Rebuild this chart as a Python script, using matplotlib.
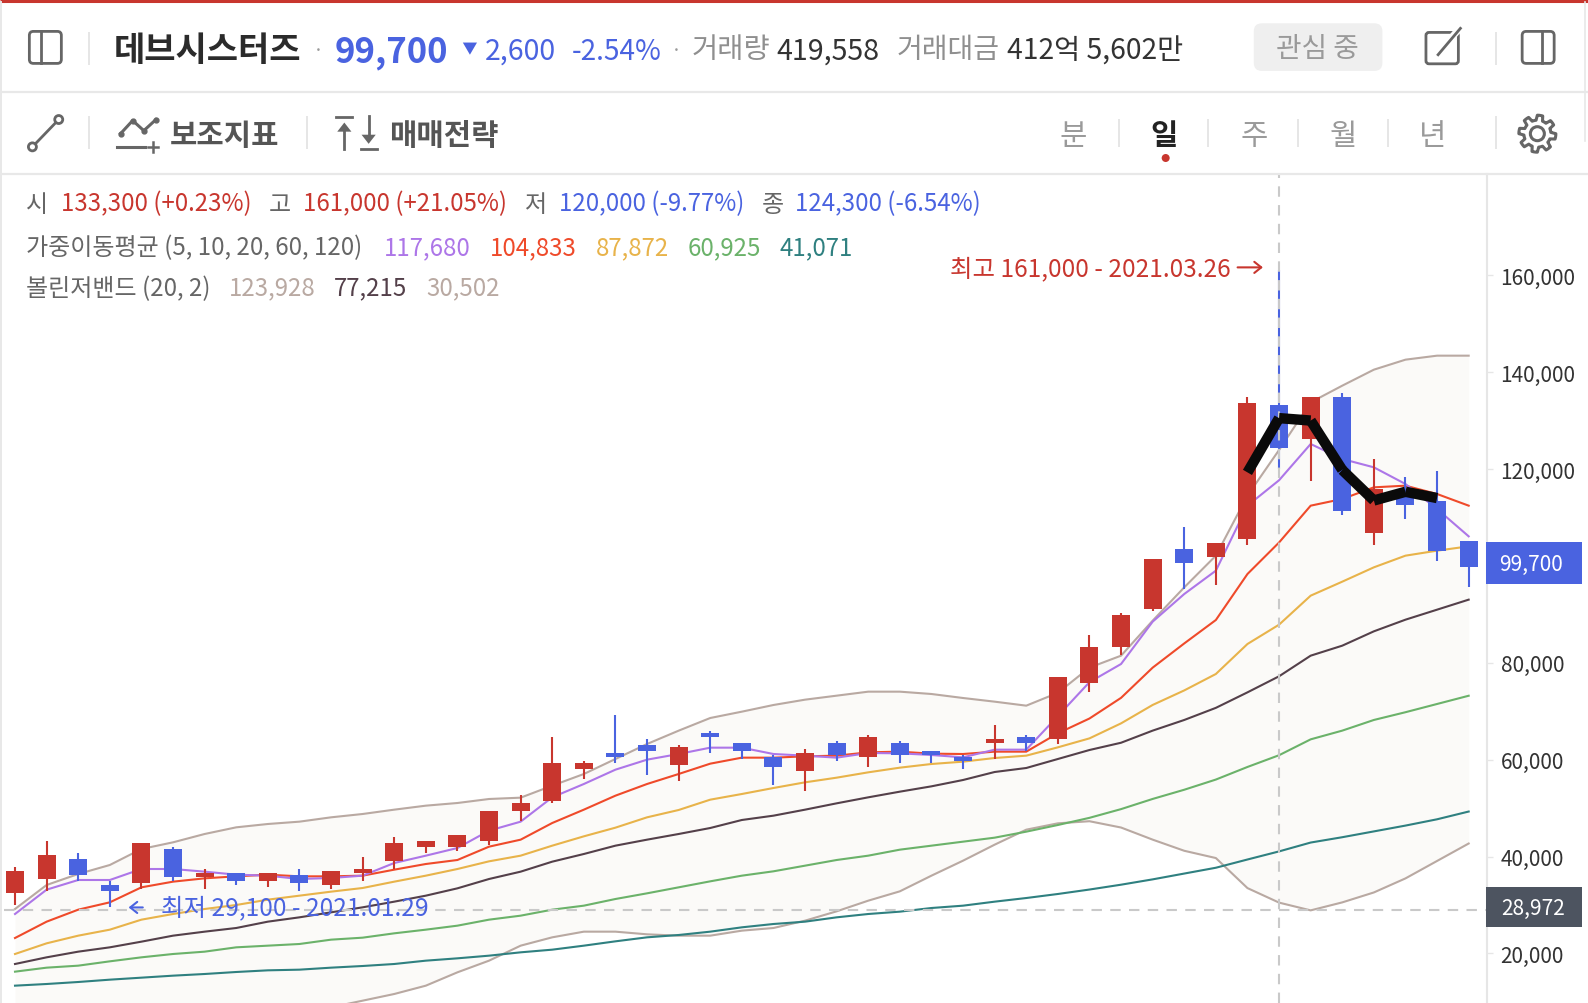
import numpy as np
import matplotlib
matplotlib.use('Agg')
import matplotlib.pyplot as plt
from matplotlib.patches import FancyBboxPatch, Rectangle, Circle, Polygon
from matplotlib.ticker import FuncFormatter

plt.rcParams['font.family'] = ['Noto Sans CJK KR', 'DejaVu Sans']

# candles: open/close as top and bottom of the body, wicks, up or down
body_top = [37028, 40330, 39504, 34138, 42806, 41568, 36614, 36614, 36614, 36202, 37028, 37440,
            42806, 43219, 44458, 49411, 51062, 59318, 59318, 61382, 63034, 62621, 65510, 63446,
            60557, 61382, 63446, 64685, 63446, 61795, 60557, 64272, 64685, 77155, 83261, 89866,
            101424, 103488, 104726, 133622, 133300, 134861, 134861, 115872, 115872, 113395, 105139]
body_bot = [32486, 35376, 36202, 32899, 34550, 35789, 35789, 34963, 34963, 34550, 34138, 36614,
            39092, 41981, 41981, 43219, 49411, 51475, 58080, 60557, 61795, 58906, 64685, 61795,
            58493, 57667, 60970, 60557, 60970, 60970, 59731, 63446, 63446, 64197, 75900, 83261,
            91104, 100598, 101837, 105552, 124300, 126192, 111331, 106790, 112570, 103075, 99700]
wick_hi = [37853, 43219, 40742, 34963, 42806, 41981, 37440, 36614, 36614, 37440, 37028, 39917,
           44045, 43219, 44458, 49411, 52714, 64685, 59731, 69226, 64272, 63034, 65923, 63446,
           60970, 62208, 63859, 65098, 63859, 61795, 60970, 67160, 65098, 77155, 85738, 90278,
           101424, 108029, 104726, 134861, 161000, 134861, 135686, 122064, 118349, 119587, 105139]
wick_lo = [30010, 32899, 34963, 29597, 33306, 34963, 33306, 34138, 33725, 32899, 33306, 34963,
           37440, 40742, 41155, 42393, 47347, 51062, 56016, 59318, 56842, 55603, 61382, 60144,
           54778, 53539, 59731, 58493, 59318, 59318, 58080, 60144, 61795, 63150, 74000, 81610,
           90691, 95232, 96058, 104314, 120000, 117523, 110506, 104314, 109680, 101011, 95645]
is_up = [1, 1, 0, 0, 1, 0, 1, 0, 1, 0, 1, 1, 1, 1, 1, 1, 1, 1, 1, 0, 0, 1, 0, 0,
         0, 1, 0, 1, 0, 0, 0, 1, 0, 1, 1, 1, 1, 0, 1, 1, 0, 1, 0, 1, 0, 0, 0]

ma5 = [28152, 33174, 35170, 35170, 37440, 37440, 36890, 36270, 36064, 35376, 35582, 36064,
       38678, 40192, 41774, 45352, 47210, 52232, 54984, 57942, 60007, 61176, 62483, 62483,
       61176, 60832, 60420, 61382, 61314, 60970, 60488, 62070, 62070, 69000, 76000, 79752,
       88490, 94200, 99016, 112432, 117680, 125160, 122064, 120344, 116904, 111744, 106102]
ma10 = [23198, 26570, 29046, 30560, 33656, 34826, 35514, 35926, 36270, 35926, 35926, 36064,
        37302, 38472, 39298, 42050, 43494, 46934, 49686, 52576, 54984, 57048, 59181, 60420,
        60420, 60694, 60832, 61520, 61658, 61245, 61176, 61658, 61658, 65450, 68500, 72766,
        79000, 84000, 88833, 98328, 104833, 112432, 113808, 116216, 116560, 114840, 112432]
ma20 = [19896, 22098, 23680, 24918, 26982, 28152, 29184, 30010, 31110, 31936, 32762, 33518,
        34826, 36064, 37440, 39022, 40192, 42256, 44182, 45971, 48104, 49618, 51750, 52920,
        54158, 55328, 56291, 57392, 58355, 59112, 59594, 60350, 60832, 62552, 64400, 67500,
        71300, 74300, 77688, 83880, 87872, 93856, 96746, 99704, 102112, 103144, 104038]
ma60 = [16250, 17075, 17488, 18382, 19208, 19896, 20378, 21272, 21616, 21960, 22854, 23267,
        24162, 24918, 25744, 26982, 27808, 29046, 29872, 31248, 32418, 33656, 34894, 36064,
        36962, 38128, 39298, 40192, 41430, 42256, 43082, 43907, 45146, 46522, 48000, 49800,
        51900, 53800, 55900, 58500, 60925, 64200, 66000, 68200, 69800, 71500, 73200]
ma120 = [13360, 13704, 14117, 14598, 15011, 15424, 15768, 16181, 16525, 16662, 17075, 17419,
         17832, 18520, 19002, 19552, 20240, 20790, 21616, 22510, 23336, 23818, 24506, 25400,
         26088, 26570, 27464, 28152, 28634, 29390, 29872, 30698, 31450, 32282, 33200, 34200,
         35300, 36500, 37700, 39400, 41071, 42900, 44000, 45200, 46400, 47700, 49300]
bb_upper = [29184, 34138, 36408, 38266, 41568, 42944, 44664, 46040, 46728, 47210, 48104, 48792,
            49686, 50512, 51062, 51888, 52163, 54640, 57048, 60144, 63240, 65992, 68606, 69914,
            71290, 72390, 73216, 74042, 74042, 73560, 72734, 71978, 71152, 73800, 79000, 81472,
            88696, 95576, 102112, 114496, 123928, 133760, 137200, 140502, 142566, 143392, 143392]
bb_mid = [17832, 19208, 20378, 21272, 22442, 23680, 24506, 25262, 26570, 27464, 28496, 29528,
          30698, 31936, 33450, 35376, 36890, 38954, 40536, 42256, 43494, 44664, 45902, 47555,
          48448, 49686, 50994, 52232, 53402, 54502, 55810, 57461, 58286, 60144, 62000, 63500,
          66000, 68200, 70700, 73900, 77215, 81472, 83536, 86494, 88900, 90966, 93034]
bb_lower = [6480, 4278, 4348, 4278, 3316, 4416, 4348, 4484, 6412, 7718, 8888, 10264,
            11640, 13360, 16114, 18520, 21616, 23336, 24506, 24506, 23957, 23680, 23680, 24712,
            25262, 26776, 28702, 30904, 32830, 36064, 39160, 42462, 45558, 46866, 47300, 46000,
            43500, 41200, 39700, 33500, 30502, 28900, 30550, 32600, 35500, 39100, 42700]

# thick black stroke drawn over the chart, candle 39 onwards
stroke_vals = [119300, 130500, 130000, 119800, 113500, 115300, 114000]
yticks = [20000, 40000, 60000, 80000, 120000, 140000, 160000]

RED = '#c8362e'
BLUE = '#4a63e0'
S = 1588 / 1568  # positions below were read at 1568 wide

fig = plt.figure(figsize=(15.88, 10.04), dpi=100, facecolor='white')

# chart area, 0..1487 px wide, 175..1004 px down
ax = fig.add_axes([0, 0, 1487 / 1588, (1004 - 175) / 1004])
x = np.arange(len(body_top))
ax.set_xlim(-0.475, 46.58)
ax.set_ylim(9782, 180888)

ax.fill_between(x, bb_lower, bb_upper, color='#fbfaf8', lw=0, zorder=1)
ax.plot(x, bb_upper, color='#b9a9a2', lw=1.5, zorder=2)
ax.plot(x, bb_lower, color='#b9a9a2', lw=1.5, zorder=2)
ax.plot(x, ma120, color='#2f8080', lw=1.5, zorder=2)
ax.plot(x, ma60, color='#6bb26a', lw=1.5, zorder=2)
ax.plot(x, bb_mid, color='#54404a', lw=1.5, zorder=2)
ax.plot(x, ma20, color='#e8b34a', lw=1.5, zorder=2)
ax.plot(x, ma10, color='#ef4a2a', lw=1.5, zorder=2)
ax.plot(x, ma5, color='#ad76e8', lw=1.5, zorder=2)

colors = [RED if u else BLUE for u in is_up]
ax.vlines(x, wick_lo, wick_hi, colors=colors, lw=1.5, zorder=3)
ax.bar(x, np.array(body_top) - np.array(body_bot), bottom=body_bot, width=0.57, color=colors, lw=0, zorder=4)

ax.axvline(40, color='#c9c9c9', lw=1.5, dashes=(5, 4), zorder=5)
ax.axhline(28972, xmin=0.003, color='#c9c9c9', lw=1.5, dashes=(5, 4), zorder=5)

for i in range(len(stroke_vals) - 1):
    ax.plot(x[39 + i:41 + i], stroke_vals[i:i + 2], color='#0a0a0a', lw=7.5,
            solid_capstyle='butt', zorder=6)

for name in ['top', 'left', 'bottom']:
    ax.spines[name].set_visible(False)
ax.spines['right'].set_color('#e6e6e6')
ax.spines['right'].set_linewidth(1.5)
ax.set_xticks([])
ax.yaxis.tick_right()
ax.set_yticks(yticks)
ax.yaxis.set_major_formatter(FuncFormatter(lambda v, p: f'{int(v):,}'))
ax.tick_params(axis='y', length=4.3, width=1, color='#e6e6e6', labelcolor='#333333', labelsize=15, pad=5.5)

# everything else goes on an overlay in pixels
ov = fig.add_axes([0, 0, 1, 1], facecolor='none')
ov.set_xlim(0, 1588)
ov.set_ylim(1004, 0)
ov.axis('off')


def txt(xp, yp, s, color='#333333', size=17.3, weight='normal', ha='left'):
    ov.text(xp * S, (yp + 3.5) * S, s, color=color, fontsize=size, fontweight=weight, ha=ha, va='center')


def hline(y0, x0=0, x1=1588, color='#e8e8e8', lw=1.6):
    ov.plot([x0, x1], [y0, y0], color=color, lw=lw, solid_capstyle='butt')


def vsep(xp, yp0, yp1):
    ov.plot([xp * S, xp * S], [yp0 * S, yp1 * S], color='#e6e6e6', lw=1.4, solid_capstyle='butt')


def panel_icon(xp, yp, left=True):
    ov.add_patch(FancyBboxPatch((xp * S + 1, yp * S + 1), 32, 32, boxstyle='round,pad=0,rounding_size=4',
                                fc='none', ec='#666666', lw=2))
    xl = xp * S + (13 if left else 21)
    ov.plot([xl, xl], [yp * S + 1, yp * S + 33], color='#666666', lw=2)


# frame
hline(2, color=RED, lw=2.2)
hline(93)
hline(174.5)
ov.plot([1, 1], [3, 1004], color='#e8e8e8', lw=1.4)
ov.plot([1585, 1585], [3, 142], color='#e8e8e8', lw=1.2)

# header row
panel_icon(28, 31)
vsep(88, 33, 65)
txt(112, 46, '데브시스터즈', '#2b2b2b', 24.5, 'bold')
txt(309, 47, '·', '#999999', 14)
txt(330, 48, '99,700', BLUE, 25, 'bold')
ov.add_patch(Polygon([(457 * S, 43 * S), (471 * S, 43 * S), (464 * S, 55 * S)], fc=BLUE, ec='none'))
txt(479, 47.5, '2,600', BLUE, 20.6)
txt(565, 47.5, '-2.54%', BLUE, 20.2)
txt(662, 47, '·', '#999999', 14)
txt(683, 46, '거래량', '#8f8f8f', 20.5)
txt(767, 47.5, '419,558', '#333333', 20.6)
txt(885, 46, '거래대금', '#8f8f8f', 20.2)
txt(994, 47, '412억 5,602만', '#333333', 20.4)
ov.add_patch(FancyBboxPatch((1238 * S, 24 * S), 127 * S, 47 * S, boxstyle='round,pad=0,rounding_size=8',
                            fc='#efefef', ec='none'))
txt(1301, 45, '관심 중', '#9a9a9a', 20, ha='center')
ov.add_patch(FancyBboxPatch((1408 * S, 33 * S), 32 * S, 31 * S, boxstyle='round,pad=0,rounding_size=3',
                            fc='none', ec='#666666', lw=2))
ov.plot([1419 * S, 1442 * S], [55 * S, 28 * S], color='white', lw=5)
ov.plot([1420 * S, 1442 * S], [55 * S, 29 * S], color='#666666', lw=2)
vsep(1477, 33, 65)
panel_icon(1502, 31, left=False)

# toolbar row
ov.plot([32 * S, 58 * S], [146 * S, 119 * S], color='#666666', lw=2)
ov.add_patch(Circle((32 * S, 146 * S), 4, fc='white', ec='#666666', lw=2, zorder=3))
ov.add_patch(Circle((58 * S, 119 * S), 4, fc='white', ec='#666666', lw=2, zorder=3))
vsep(88, 116, 148)
ov.plot(np.array([119, 131, 142, 154]) * S, np.array([133, 120, 130, 119]) * S, color='#666666', lw=2.2,
        marker='o', ms=3.5)
ov.plot(np.array([116, 143]) * S, [146 * S, 146 * S], color='#666666', lw=2.2)
ov.plot(np.array([146, 156]) * S, [146 * S, 146 * S], color='#666666', lw=1.8)
ov.plot([151 * S, 151 * S], [141 * S, 151 * S], color='#666666', lw=1.8)
txt(168, 131, '보조지표', '#555555', 21.4, 'bold')
vsep(303, 116, 148)
ov.plot([332 * S, 348 * S], [117 * S, 117 * S], color='#666666', lw=2)
ov.plot([340 * S, 340 * S], [148 * S, 125 * S], color='#666666', lw=2)
ov.add_patch(Polygon([(333 * S, 131 * S), (347 * S, 131 * S), (340 * S, 122 * S)], fc='#666666', ec='none'))
ov.plot([356 * S, 372 * S], [148 * S, 148 * S], color='#666666', lw=2)
ov.plot([364 * S, 364 * S], [116 * S, 138 * S], color='#666666', lw=2)
ov.add_patch(Polygon([(357 * S, 134 * S), (371 * S, 134 * S), (364 * S, 143 * S)], fc='#666666', ec='none'))
txt(384, 131, '매매전략', '#555555', 21.4, 'bold')

for label, xp, sep in zip(['분', '주', '월', '년'], [1060, 1238, 1326, 1415], [1105, 1193, 1282, 1371]):
    txt(xp, 131, label, '#9a9a9a', 21.4, ha='center')
    vsep(sep, 118, 146)
txt(1149, 131, '일', '#222222', 21.4, 'bold', ha='center')
ov.add_patch(Circle((1151 * S, 157 * S), 4, fc=RED, ec='none'))
vsep(1477, 116, 148)

# gear
ang = np.linspace(0, 2 * np.pi, 65)[:-1]
rad = 16 + 2.5 * np.sign(np.sin(8 * ang + 0.4))
ov.add_patch(Polygon(np.c_[1518 * S + rad * np.cos(ang), 133 * S + rad * np.sin(ang)], fc='none', ec='#666666',
                     lw=2.2, joinstyle='round'))
ov.add_patch(Circle((1518 * S, 133 * S), 7, fc='none', ec='#666666', lw=2.2))

# OHLC and indicator lines
txt(26, 198.5, '시', '#666666')
txt(60, 198.5, '133,300 (+0.23%)', RED)
txt(265, 198.5, '고', '#666666')
txt(299, 198.5, '161,000 (+21.05%)', RED)
txt(518, 198.5, '저', '#666666')
txt(552, 198.5, '120,000 (-9.77%)', BLUE)
txt(752, 198.5, '종', '#666666')
txt(785, 198.5, '124,300 (-6.54%)', BLUE)
txt(26, 241.5, '가중이동평균 (5, 10, 20, 60, 120)', '#666666')
txt(379, 242, '117,680', '#ad76e8')
txt(484, 242, '104,833', '#ef4a2a')
txt(588, 242, '87,872', '#e8b34a')
txt(679, 242, '60,925', '#6bb26a')
txt(770, 242, '41,071', '#2f8080')
txt(26, 281.5, '볼린저밴드 (20, 2)', '#666666')
txt(226, 281.5, '123,928', '#b9a9a2')
txt(330, 281.5, '77,215', '#54404a')
txt(421, 281.5, '30,502', '#b9a9a2')

txt(938, 262, '최고 161,000 - 2021.03.26', RED, 17.6)
ov.annotate('', xy=(1247 * S, 265 * S), xytext=(1222 * S, 265 * S),
            arrowprops=dict(arrowstyle='->,head_length=0.5,head_width=0.4', color=RED, lw=1.5, shrinkA=0, shrinkB=0))
txt(159, 893.5, '최저 29,100 - 2021.01.29', BLUE, 17.6)
ov.annotate('', xy=(127 * S, 897 * S), xytext=(141 * S, 897 * S),
            arrowprops=dict(arrowstyle='->,head_length=0.5,head_width=0.4', color=BLUE, lw=1.5, shrinkA=0, shrinkB=0))

# price boxes on the axis
ov.add_patch(Rectangle((1467 * S, 536 * S), 95 * S, 42 * S, fc=BLUE, ec='none'))
txt(1512, 554.5, '99,700', 'white', 15, ha='center')
ov.add_patch(Rectangle((1467 * S, 877 * S), 95 * S, 39 * S, fc='#4d5460', ec='none'))
txt(1514, 894, '28,972', 'white', 15, ha='center')

fig.savefig('out.png', dpi=100)
